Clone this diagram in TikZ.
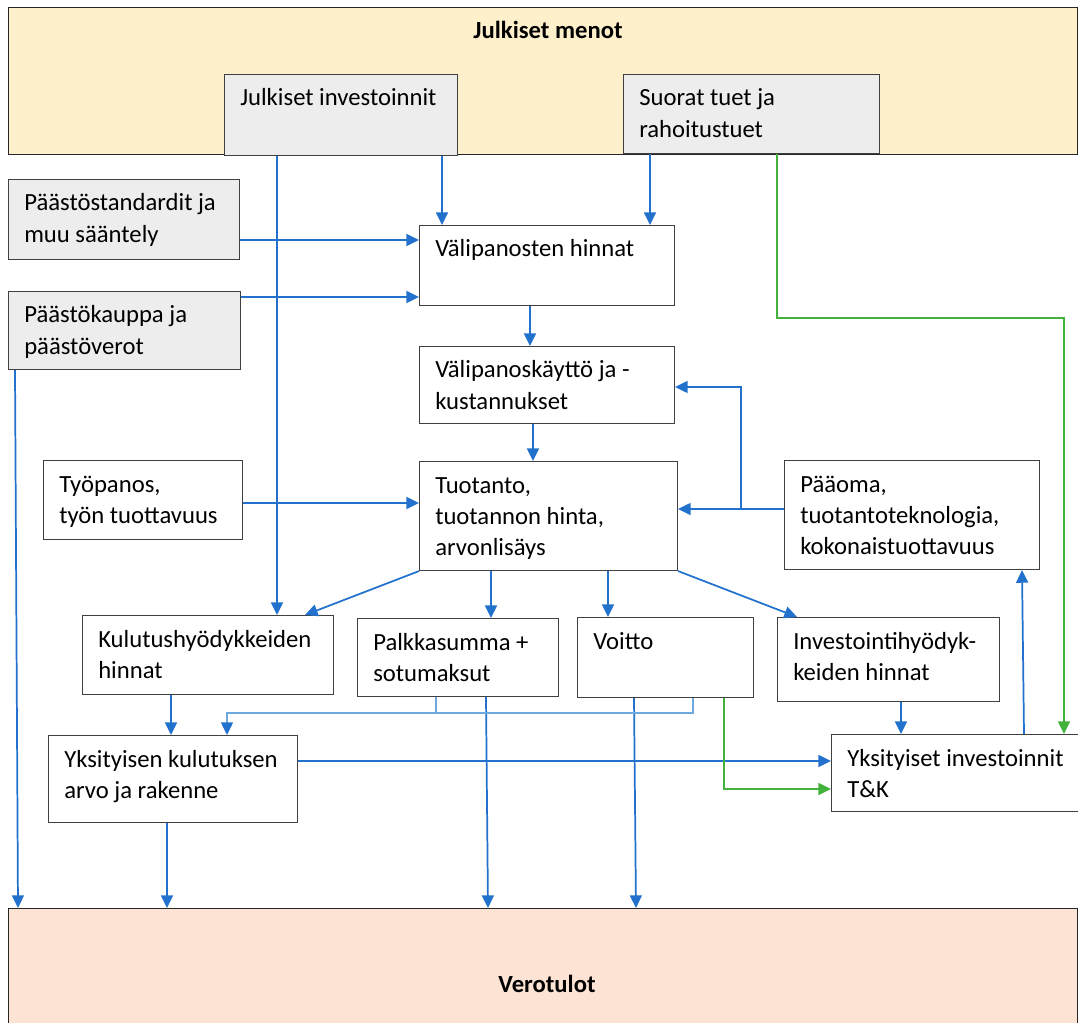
\documentclass[tikz,border=0pt]{standalone}
\usepackage{fontspec}
\setmainfont{Carlito}
\usetikzlibrary{arrows.meta,calc}

\definecolor{blu}{RGB}{34,113,204}
\definecolor{lite}{RGB}{111,168,222}
\definecolor{grn}{RGB}{66,178,58}
\definecolor{bord}{RGB}{64,64,64}
\definecolor{bandyellow}{RGB}{255,240,204}
\definecolor{bandpeach}{RGB}{253,227,212}
\definecolor{boxgray}{RGB}{237,237,237}

\tikzset{
  x=0.75pt, y=-0.75pt,
  frame/.style={draw=bord, line width=0.8pt, rectangle, inner sep=0pt, anchor=north west},
  graybox/.style={frame, fill=boxgray},
  whitebox/.style={frame, fill=white},
  band/.style={draw=black!85, line width=0.8pt, rectangle, inner sep=0pt, anchor=north west},
  txt/.style={inner sep=0pt, anchor=base west, font=\fontsize{18.5}{23.6}\selectfont},
  title/.style={inner sep=0pt, anchor=base, font=\fontsize{18.5}{23.6}\selectfont\bfseries},
  tip/.style={-{Triangle[length=9.5pt,width=9pt]}},
  flow/.style={tip, draw=blu, line width=1.3pt},
  thinflow/.style={draw=lite, line width=1pt},
  greenflow/.style={-{Triangle[length=9.5pt,width=9pt]}, draw=grn, line width=1.1pt},
}

% box: style, name, x1, y1, x2, y2, text
\newcommand\diabox[7]{%
  \node[#1, minimum width={(#5-#3)*0.75pt}, minimum height={(#6-#4)*0.75pt}] (#2) at (#3,#4) {};
  \node[txt] (#2-t) at ($(#2.north west)+(16,32)$) {\parbox[t]{300pt}{#7}};
}

\begin{document}
\begin{tikzpicture}
\useasboundingbox (0,0) rectangle (1078,1023);

% bands
\node[band, fill=bandyellow, minimum width={1069*0.75pt}, minimum height={147*0.75pt}] (jm) at (8,7) {};
\node[title] (jm-t) at (548,39) {Julkiset menot};
\node[band, fill=bandpeach, minimum width={1069*0.75pt}, minimum height={120*0.75pt}] (vt) at (8,908) {};
\node[title] (vt-t) at (547,992) {Verotulot};

% boxes
\diabox{graybox}{ji}{224}{74}{457}{155}{Julkiset investoinnit}
\diabox{graybox}{st}{623}{74}{879}{153}{Suorat tuet ja\\rahoitustuet}
\diabox{graybox}{ps}{8}{179}{239}{259}{Päästöstandardit ja\\muu sääntely}
\diabox{graybox}{pk}{8}{291}{240}{369}{Päästökauppa ja\\päästöverot}
\diabox{whitebox}{vh}{419}{225}{674}{305}{Välipanosten hinnat}
\diabox{whitebox}{vk}{419}{346}{674}{423}{Välipanoskäyttö ja -\\kustannukset}
\diabox{whitebox}{tp}{43}{460}{242}{539}{Työpanos,\\työn tuottavuus}
\diabox{whitebox}{tu}{419}{461}{677}{570}{Tuotanto,\\tuotannon hinta,\\arvonlisäys}
\diabox{whitebox}{po}{784}{460}{1039}{569}{Pääoma,\\tuotantoteknologia,\\kokonaistuottavuus}
\diabox{whitebox}{kh}{82}{615}{333}{694}{Kulutushyödykkeiden\\hinnat}
\diabox{whitebox}{pa}{357}{618}{558}{696}{Palkkasumma +\\sotumaksut}
\diabox{whitebox}{vo}{577}{617}{753}{697}{Voitto}
\diabox{whitebox}{ih}{777}{617}{999}{701}{Investointihyödyk-\\keiden hinnat}
\diabox{whitebox}{yk}{48}{735}{297}{822}{Yksityisen kulutuksen\\arvo ja rakenne}
\diabox{whitebox}{yi}{831}{734}{1082}{811}{Yksityiset investoinnit\\T\&K}

% helper points for bends
\coordinate (gc) at (1064,318);
\coordinate (lj) at (227,713);
\coordinate (br) at (741,509);

% blue flows
\draw[flow] ($(ji.south west)+(53,0)$) coordinate (a1) -- (a1 |- kh.north);
\draw[flow] ($(ji.south west)+(218,0)$) coordinate (a2) -- (a2 |- vh.north);
\draw[flow] ($(st.south west)+(27,0)$) coordinate (a3) -- (a3 |- vh.north);
\draw[flow] ($(ps.north east)+(0,61)$) coordinate (a4) -- (a4 -| vh.west);
\draw[flow] ($(pk.north east)+(0,6)$) coordinate (a5) -- (a5 -| vh.west);
\draw[flow] ($(pk.south west)+(7,0)$) -- ($(vt.north west)+(10,0)$);
\draw[flow] ($(vh.south west)+(111,0)$) coordinate (a7) -- (a7 |- vk.north);
\draw[flow] ($(vk.south west)+(114,0)$) coordinate (a8) -- (a8 |- tu.north);
\draw[flow] ($(tp.north east)+(0,43)$) coordinate (a9) -- (a9 -| tu.west);
\draw[flow] ($(po.north west)+(0,49)$) coordinate (pw) -- (pw -| tu.east);
\draw[flow] (br) |- ($(vk.north east)+(0,41)$);
\draw[flow] (tu.south west) -- ($(kh.north west)+(223,0)$);
\draw[flow] ($(tu.south west)+(72,0)$) coordinate (a12) -- (a12 |- pa.north);
\draw[flow] ($(tu.south west)+(189,0)$) coordinate (a13) -- (a13 |- vo.north);
\draw[flow] (tu.south east) -- ($(ih.north west)+(20,0)$);
\draw[flow] ($(kh.south west)+(89,0)$) coordinate (a15) -- (a15 |- yk.north);
\draw[flow] ($(pa.south west)+(129,0)$) -- ($(vt.north west)+(480,0)$);
\draw[flow] ($(vo.south west)+(57,0)$) -- ($(vt.north west)+(628,0)$);
\draw[flow] ($(yk.north east)+(0,26)$) coordinate (a19) -- (a19 -| yi.west);
\draw[flow] ($(yk.south west)+(119,0)$) coordinate (a20) -- (a20 |- vt.north);
\draw[flow] ($(ih.south west)+(124,0)$) coordinate (a21) -- (a21 |- yi.north);
\draw[flow] ($(yi.north west)+(193,0)$) -- ($(po.south west)+(238,0)$);

% wages and profit joined into private consumption
\draw[thinflow] ($(pa.south west)+(79,0)$) coordinate (a16) -- (a16 |- lj);
\draw[thinflow, -{Triangle[length=9.5pt,width=9pt,color=blu]}] ($(vo.south west)+(116,0)$) |- (lj) -- (lj |- yk.north);

% green flows
\draw[greenflow] ($(st.south west)+(154,0)$) |- (gc) -- (gc |- yi.north);
\draw[greenflow] ($(vo.south west)+(147,0)$) |- ($(yi.north west)+(0,55)$);

\end{tikzpicture}
\end{document}
